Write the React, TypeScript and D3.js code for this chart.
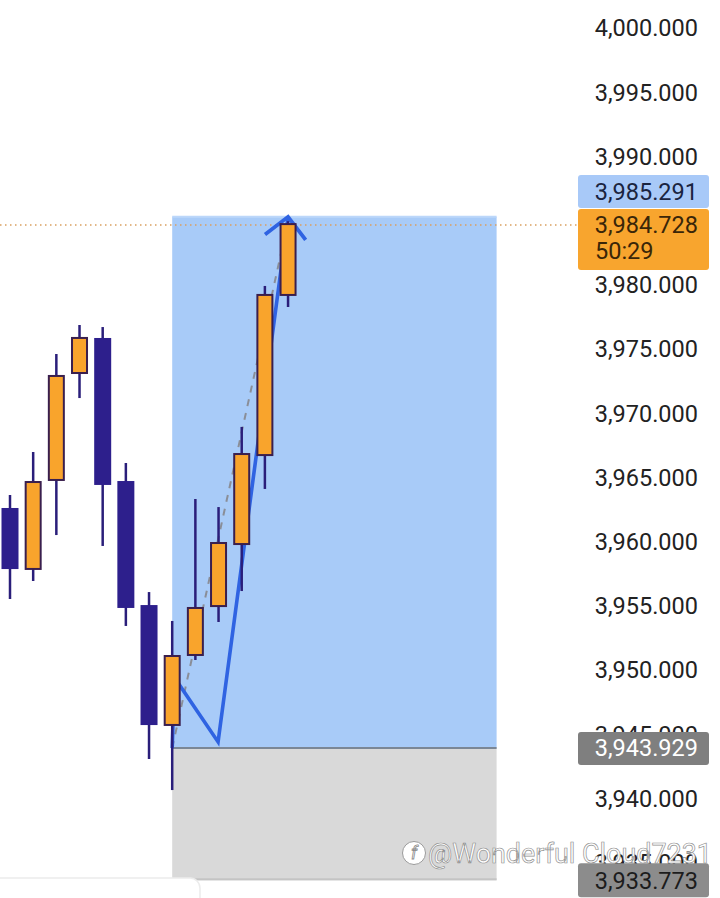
import React from "react";
import * as d3 from "d3";

const opens = [3962.54, 3957.87, 3964.8, 3973.13, 3975.78, 3964.64, 3954.98, 3945.72, 3951.17, 3954.98, 3959.81, 3966.74, 3979.21];
const highs = [3963.63, 3966.98, 3974.61, 3976.87, 3976.71, 3966.12, 3956.07, 3953.82, 3963.32, 3962.69, 3968.93, 3979.91, 3984.95];
const lows = [3955.53, 3956.93, 3960.51, 3971.18, 3959.66, 3953.43, 3943.07, 3940.65, 3950.78, 3953.74, 3956.15, 3964.1, 3978.27];
const closes = [3957.94, 3964.64, 3972.9, 3975.86, 3964.49, 3954.91, 3945.79, 3951.09, 3954.83, 3959.89, 3966.82, 3979.21, 3984.728];

const tickValues = [4000, 3995, 3990, 3985, 3980, 3975, 3970, 3965, 3960, 3955, 3950, 3945, 3940, 3935];

const zoneTop = 3985.291;
const zoneMid = 3943.929;
const zoneBottom = 3933.773;
const zoneStartIdx = 7;
const zoneEndIdx = 21;

const pathIdx = [7, 7.1, 8.98, 12];
const pathVals = [3943.929, 3949.4, 3944.4, 3985.291];

const lastPrice = 3984.728;
const countdown = "50:29";
const watermark = "@Wonderful Cloud7231";

const W = 720;
const H = 898;

const fmt = d3.format(",.3f");

export default function App() {
  const y = d3.scaleLinear().domain([4000, 3940]).range([28, 798.4]);
  const x = d3.scaleLinear().domain([0, 21]).range([10, 496.6]);

  const BULL = "#f9a42c";
  const BEAR = "#2d1f8c";
  const OUTLINE = "#3a1f4e";
  const WICK = "#2a1e7a";
  const LINE = "#2f63e2";

  const pts: [number, number][] = pathIdx.map((d, i) => [x(d), y(pathVals[i])]);
  const line = d3.line()(pts) || "";
  const tip = pts[pts.length - 1];
  const prev = pts[pts.length - 2];
  const ang = Math.atan2(prev[1] - tip[1], prev[0] - tip[0]);
  const armLen = 29;
  const a1 = ang + Math.PI / 4;
  const a2 = ang - Math.PI / 4;
  const arrow = `M${tip[0] + armLen * Math.cos(a1)},${tip[1] + armLen * Math.sin(a1)}L${tip[0]},${tip[1]}L${tip[0] + armLen * Math.cos(a2)},${tip[1] + armLen * Math.sin(a2)}`;

  const bodyW = 17;
  const labelX = 578;
  const labelW = 131;
  const textRight = 698;
  const fs = 23.5;
  const font = "Roboto, 'Noto Sans', sans-serif";

  return (
    <svg width={W} height={H} style={{ position: "absolute", left: 0, top: 0, background: "#fff" }} fontFamily={font}>
      <rect x={0} y={0} width={W} height={H} fill="#ffffff" />
      {/* zone rectangles */}
      <rect x={x(zoneStartIdx)} y={y(zoneTop)} width={x(zoneEndIdx) - x(zoneStartIdx)} height={y(zoneMid) - y(zoneTop)} fill="#a8cbf8" />
      <rect x={x(zoneStartIdx)} y={y(zoneMid)} width={x(zoneEndIdx) - x(zoneStartIdx)} height={y(zoneBottom) - y(zoneMid) + 2} fill="#d9d9d9" />
      <line x1={x(zoneStartIdx)} x2={x(zoneEndIdx)} y1={y(zoneMid)} y2={y(zoneMid)} stroke="#7b8796" strokeWidth={2} />
      <line x1={x(zoneStartIdx)} x2={x(zoneEndIdx)} y1={y(zoneBottom) + 1} y2={y(zoneBottom) + 1} stroke="#c4c4c4" strokeWidth={2} />
      <line x1={x(zoneStartIdx)} x2={x(zoneEndIdx)} y1={y(zoneTop)} y2={y(zoneTop)} stroke="#bcd7fa" strokeWidth={2} />

      {/* last price dotted line */}
      <line x1={0} x2={labelX} y1={y(lastPrice) + 1} y2={y(lastPrice) + 1} stroke="#d9a060" strokeWidth={1.5} strokeDasharray="1.5 3.5" />

      {/* dashed projection */}
      <line x1={pts[0][0]} y1={pts[0][1]} x2={tip[0] + 1} y2={tip[1]} stroke="#8a8e98" strokeWidth={2} strokeDasharray="7 7" />

      {/* zigzag path */}
      <path d={line} fill="none" stroke={LINE} strokeWidth={3.6} strokeLinejoin="miter" />
      <path d={arrow} fill="none" stroke={LINE} strokeWidth={3.8} strokeLinejoin="miter" />

      {/* candles */}
      {opens.map((o, i) => {
        const c = closes[i];
        const bull = c >= o;
        const cx = x(i);
        const top = y(Math.max(o, c));
        const bot = y(Math.min(o, c));
        return (
          <g key={i}>
            <line x1={cx} x2={cx} y1={y(highs[i])} y2={y(lows[i])} stroke={WICK} strokeWidth={2.5} />
            {bull ? (
              <rect x={cx - bodyW / 2 + 1} y={top} width={bodyW - 2} height={bot - top} fill={BULL} stroke={OUTLINE} strokeWidth={2} />
            ) : (
              <rect x={cx - bodyW / 2} y={top - 1} width={bodyW} height={bot - top + 2} fill={BEAR} />
            )}
          </g>
        );
      })}

      {/* axis labels */}
      {tickValues.map((t) => (
        <text key={t} x={textRight} y={y(t)} dy="0.36em" textAnchor="end" fontSize={fs} fill="#222">
          {fmt(t)}
        </text>
      ))}

      {/* price boxes */}
      <rect x={labelX} y={175} width={labelW} height={33} rx={3} fill="#a8c9f8" />
      <text x={textRight} y={191.5} dy="0.36em" textAnchor="end" fontSize={fs} fill="#1a2440">{fmt(zoneTop)}</text>

      <rect x={labelX} y={209} width={labelW} height={61} rx={3} fill="#f8a52e" />
      <text x={textRight} y={225} dy="0.36em" textAnchor="end" fontSize={fs} fill="#3a2608">{fmt(lastPrice)}</text>
      <text x={595} y={251} dy="0.36em" textAnchor="start" fontSize={fs} fill="#3a2608">{countdown}</text>

      <rect x={labelX} y={y(zoneMid) - 16} width={labelW} height={33} rx={3} fill="#7f7f7f" />
      <text x={textRight} y={y(zoneMid)} dy="0.36em" textAnchor="end" fontSize={fs} fill="#ffffff">{fmt(zoneMid)}</text>

      {/* watermark */}
      <g>
        <circle cx={414} cy={853} r={11.5} fill="#fff" stroke="#9a9a9a" strokeWidth={1} />
        <text x={414} y={853} dy="0.36em" textAnchor="middle" fontSize={18} fontStyle="italic" fill="#fff" stroke="#8a8a8a" strokeWidth={0.8}>f</text>
        <text x={428} y={863} fontSize={28} textLength={284} lengthAdjust="spacingAndGlyphs" fill="#ffffff" stroke="#8f8f8f" strokeWidth={0.7}>{watermark}</text>
      </g>

      <rect x={labelX} y={y(zoneBottom) - 15} width={labelW} height={34} rx={3} fill="#8c8c8c" />
      <text x={textRight} y={y(zoneBottom) + 2} dy="0.36em" textAnchor="end" fontSize={fs} fill="#1c1c1c">{fmt(zoneBottom)}</text>

      {/* bottom-left UI chip */}
      <rect x={-10} y={878} width={210} height={40} rx={10} fill="#ffffff" stroke="#ececec" strokeWidth={1.5} />
    </svg>
  );
}
